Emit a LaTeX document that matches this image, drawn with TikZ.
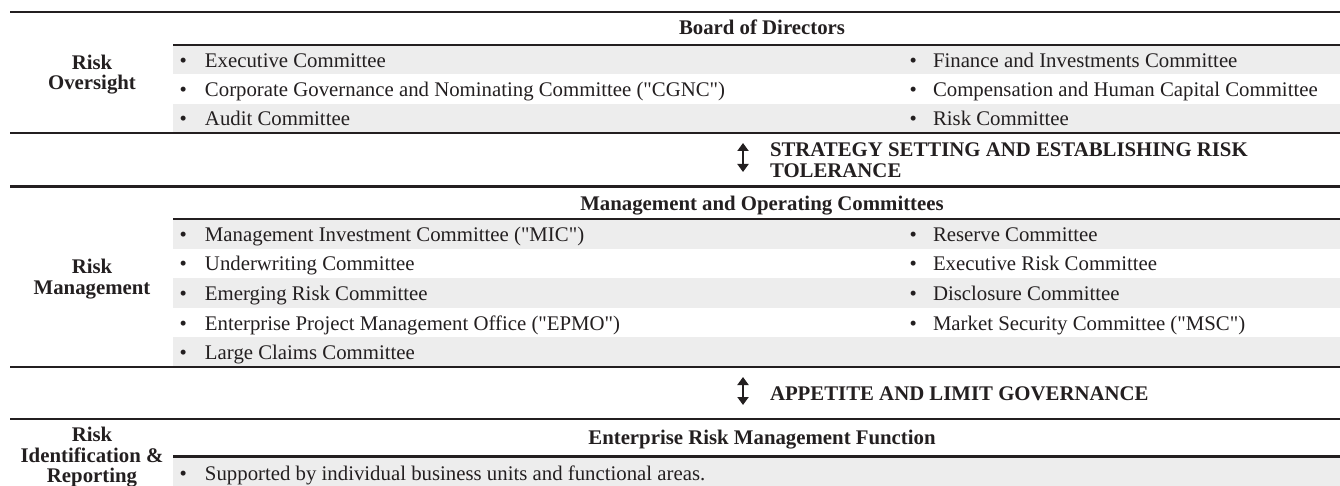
\documentclass[tikz,border=0pt]{standalone}
\usepackage{fontspec}
\setmainfont{Liberation Serif}[Ligatures=TeXOff]
\usetikzlibrary{arrows.meta}
\definecolor{ink}{HTML}{231F20}
\definecolor{shade}{HTML}{EDEDED}
\newcommand\bulL{\llap{•\hspace{18pt}}}
\newcommand\bulR{\llap{•\hspace{16pt}}}
\begin{document}
\begin{tikzpicture}[x=1pt,y=-1pt,
  rule/.style={draw=ink,line width=2.4pt},
  band/.style={fill=shade},
  txt/.style={inner sep=0pt,outer sep=0pt,text=ink,font=\fontsize{20.8}{20.5}\selectfont},
  bold/.style={txt,font=\fontsize{20.8}{20.5}\selectfont\bfseries},
  hd/.style={bold,anchor=base},
  lab/.style={bold,align=center,anchor=north},
  li/.style={txt,anchor=base west},
  dbl/.style={{Triangle[width=11pt,length=8pt]}-{Triangle[width=11pt,length=8pt]},line width=2.3pt,draw=ink}]
\useasboundingbox (0,0) rectangle (1340,486);
% shaded rows
\fill[band] (173,45) rectangle (1340,74.3);
\fill[band] (173,103.7) rectangle (1340,133);
\fill[band] (173,219) rectangle (1340,248.6);
\fill[band] (173,278.2) rectangle (1340,307.8);
\fill[band] (173,337.4) rectangle (1340,367);
\fill[band] (173,456.5) rectangle (1340,486);
% rules
\draw[rule] (10,12) -- (1340,12);
\draw[rule] (173,45) -- (1340,45);
\draw[rule] (10,133) -- (1340,133);
\draw[rule] (10,186.5) -- (1340,186.5);
\draw[rule] (173,219) -- (1340,219);
\draw[rule] (10,367) -- (1340,367);
\draw[rule] (10,419) -- (1340,419);
\draw[rule] (173,456.5) -- (1340,456.5);
% left labels
\node[lab] (ro) at (92,54.6) {Risk\\Oversight};
\node[lab] (rm) at (92,259.4) {Risk\\Management};
\node[lab] (ri) at (92,427.3) {Risk\\Identification \&\\Reporting};
% headers
\node[hd] (bod) at (762,35) {Board of Directors};
\node[hd] (moc) at (762,211) {Management and Operating Committees};
\node[hd] (erm) at (762,444) {Enterprise Risk Management Function};
% board committees
\node[li] (b1) at (205,67.2) {\bulL Executive Committee};
\node[li] (b2) at (205,96.5) {\bulL Corporate Governance and Nominating Committee ("CGNC")};
\node[li] (b3) at (205,125.8) {\bulL Audit Committee};
\node[li] (b4) at (933,67.2) {\bulR Finance and Investments Committee};
\node[li] (b5) at (933,96.5) {\bulR Compensation and Human Capital Committee};
\node[li] (b6) at (933,125.8) {\bulR Risk Committee};
% strategy
\coordinate (s1) at (743,143);
\coordinate (s2) at (743,172);
\draw[dbl] (s1) -- (s2);
\node[bold,align=left,anchor=north west] (st) at (770,143) {STRATEGY SETTING AND ESTABLISHING RISK\\TOLERANCE};
% management committees
\node[li] (m1) at (205,241.3) {\bulL Management Investment Committee ("MIC")};
\node[li] (m2) at (205,270.9) {\bulL Underwriting Committee};
\node[li] (m3) at (205,300.5) {\bulL Emerging Risk Committee};
\node[li] (m4) at (205,330.1) {\bulL Enterprise Project Management Office ("EPMO")};
\node[li] (m5) at (205,359.7) {\bulL Large Claims Committee};
\node[li] (m6) at (933,241.3) {\bulR Reserve Committee};
\node[li] (m7) at (933,270.9) {\bulR Executive Risk Committee};
\node[li] (m8) at (933,300.5) {\bulR Disclosure Committee};
\node[li] (m9) at (933,330.1) {\bulR Market Security Committee ("MSC")};
% appetite
\coordinate (a1) at (743,377);
\coordinate (a2) at (743,405);
\draw[dbl] (a1) -- (a2);
\node[bold,anchor=base west] (ap) at (770,400) {APPETITE AND LIMIT GOVERNANCE};
% ERM
\node[li] (e1) at (205,480.5) {\bulL Supported by individual business units and functional areas.};
\end{tikzpicture}
\end{document}
